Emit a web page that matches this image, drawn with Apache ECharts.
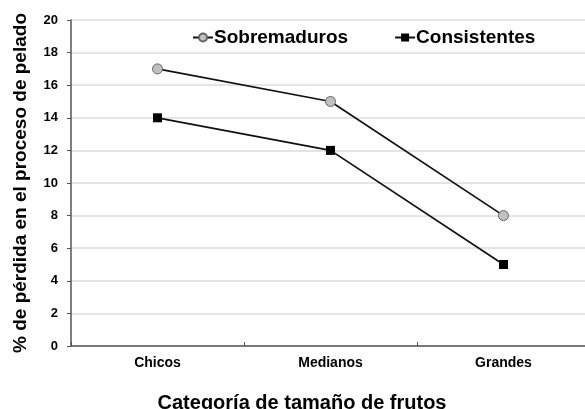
<!DOCTYPE html>
<html><head><meta charset="utf-8">
<script src="https://cdn.jsdelivr.net/npm/echarts@6/dist/echarts.min.js"></script>
<style>html,body{margin:0;padding:0;background:#fff}#c{width:585px;height:409px}</style>
</head><body><div id="c"></div>
<script>
var categories = ['Chicos', 'Medianos', 'Grandes'];
var sobremaduros = [17, 15, 8];
var consistentes = [14, 12, 5];
var yTicks = [0, 20, 2];

var chart = echarts.init(document.getElementById('c'), null, {renderer: 'canvas'});
var font = 'Liberation Sans, Arial, sans-serif';
chart.setOption({
  animation: false,
  textStyle: {fontFamily: font},
  grid: {left: 71, right: -5, top: 20, bottom: 63, containLabel: false, outerBoundsMode: 'none'},
  legend: {
    top: 23, left: 187, itemGap: 46, itemWidth: 20, itemHeight: 10,
    textStyle: {fontFamily: font, fontWeight: 'bold', fontSize: 19, color: '#000', padding: [0,0,0,-4]},
    data: ['Sobremaduros', 'Consistentes']
  },
  xAxis: {
    type: 'category', data: categories,
    name: 'Categoría de tamaño de frutos', nameLocation: 'middle', nameGap: 47,
    nameTextStyle: {fontFamily: font, fontWeight: 'bold', fontSize: 20, color: '#000', padding: [0, 57, 0, 0]},
    axisLine: {lineStyle: {color: '#555', width: 1.5}},
    axisTick: {show: true, inside: true, length: 4, lineStyle: {color: '#555'}},
    axisLabel: {fontFamily: font, fontWeight: 'bold', fontSize: 14, color: '#000', margin: 10}
  },
  yAxis: {
    type: 'value', min: yTicks[0], max: yTicks[1], interval: yTicks[2],
    name: '% de pérdida en el proceso de pelado', nameLocation: 'middle', nameGap: 41,
    nameTextStyle: {fontFamily: font, fontWeight: 'bold', fontSize: 19, color: '#000'},
    axisLine: {show: true, lineStyle: {color: '#555', width: 1.5}},
    axisTick: {show: true, length: 4, lineStyle: {color: '#555'}},
    axisLabel: {fontFamily: font, fontWeight: 'bold', fontSize: 13, color: '#000', margin: 13},
    splitLine: {lineStyle: {color: '#dcdcdc', width: 1.5}}
  },
  series: [
    {name: 'Sobremaduros', type: 'line', data: sobremaduros,
     symbol: 'circle', symbolSize: 10,
     lineStyle: {color: '#111', width: 1.7},
     itemStyle: {color: '#c0c0c0', borderColor: '#666', borderWidth: 1}},
    {name: 'Consistentes', type: 'line', data: consistentes,
     symbol: 'rect', symbolSize: 9,
     lineStyle: {color: '#111', width: 1.7},
     itemStyle: {color: '#000', borderColor: '#000', borderWidth: 0}}
  ]
});
</script></body></html>
